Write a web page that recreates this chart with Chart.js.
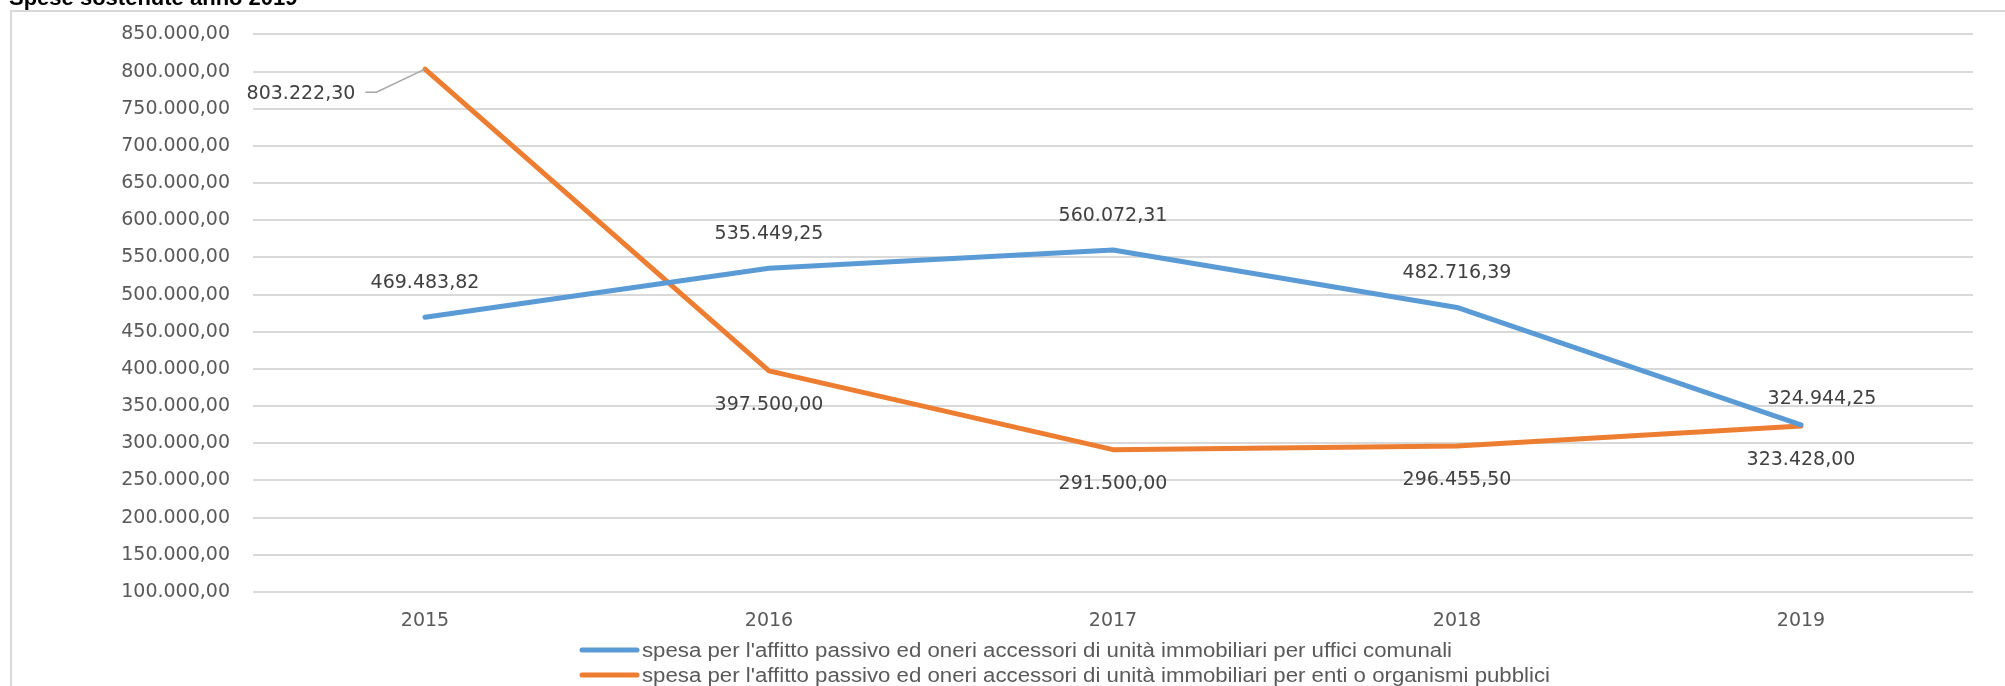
<!DOCTYPE html>
<html>
<head>
<meta charset="utf-8">
<script src="https://cdn.jsdelivr.net/npm/chart.js@4.4.1/dist/chart.umd.min.js"></script>
<style>
  html, body { margin: 0; padding: 0; background: #ffffff; overflow: hidden; }
  #wrap { position: relative; width: 2005px; height: 686px; }
  #frame { position: absolute; left: 10px; top: 10px; width: 2100px; height: 800px; border: 2px solid #D9D9D9; box-sizing: border-box; }
  canvas { position: absolute; left: 0; top: 0; }
</style>
</head>
<body>
<div id="wrap">
  <div id="frame"></div>
  <canvas id="c" width="2005" height="686"></canvas>
</div>
<script>
// ---- data ----
const chartTitle = "Spese sostenute anno 2019";
const categories = ["2015", "2016", "2017", "2018", "2019"];
const seriesNames = [
  "spesa per l'affitto passivo ed oneri accessori di unità immobiliari per uffici comunali",
  "spesa per l'affitto passivo ed oneri accessori di unità immobiliari per enti o organismi pubblici"
];
const ufficiComunali = [469483.82, 535449.25, 560072.31, 482716.39, 324944.25];
const entiPubblici = [803222.30, 397500.00, 291500.00, 296455.50, 323428.00];
const yMin = 100000;
const yMax = 850000;
const yStep = 50000;

// ---- styling ----
const colors = ["#5B9BD5", "#ED7D31"];
const tickFont = { family: "'DejaVu Sans', sans-serif", size: 19 };
const labelColor = "#404040";
const tickColor = "#595959";
// label placement per series/point: [dx, dy] from point (centre of text)
const labelOffsets = [
  [[0, -34], [0, -34], [0, -34], [0, -34], [21, -26]],
  [[-124, 25], [0, 34], [0, 34], [0, 34], [0, 34]]
];

function fmtIt(v) {
  const neg = v < 0;
  v = Math.abs(v);
  let [i, d] = v.toFixed(2).split(".");
  i = i.replace(/\B(?=(\d{3})+(?!\d))/g, ".");
  return (neg ? "-" : "") + i + "," + d;
}

const titlePlugin = {
  id: "titleCut",
  afterDraw(chart) {
    const ctx = chart.ctx;
    ctx.save();
    ctx.font = "bold 22px 'Liberation Sans', Arial, sans-serif";
    ctx.fillStyle = "#000000";
    ctx.textBaseline = "alphabetic";
    ctx.textAlign = "left";
    ctx.fillText(chartTitle, 9, 5);
    ctx.restore();
  }
};

const dataLabelPlugin = {
  id: "dataLabels",
  afterDatasetsDraw(chart) {
    const ctx = chart.ctx;
    ctx.save();
    ctx.font = tickFont.size + "px " + tickFont.family;
    ctx.fillStyle = labelColor;
    ctx.textAlign = "center";
    ctx.textBaseline = "middle";
    chart.data.datasets.forEach((ds, di) => {
      const meta = chart.getDatasetMeta(di);
      meta.data.forEach((pt, i) => {
        const [dx, dy] = labelOffsets[di][i];
        const tx = pt.x + dx, ty = pt.y + dy;
        const txt = fmtIt(ds.data[i]);
        if (Math.abs(dx) > 60) {
          const w = ctx.measureText(txt).width;
          const sx = tx + w / 2 + 10;
          ctx.save();
          ctx.strokeStyle = "#A6A6A6";
          ctx.lineWidth = 1.5;
          ctx.beginPath();
          ctx.moveTo(sx, ty - 2);
          ctx.lineTo(sx + 11, ty - 2);
          ctx.lineTo(pt.x, pt.y);
          ctx.stroke();
          ctx.restore();
        }
        ctx.fillText(txt, tx, ty);
      });
    });
    ctx.restore();
  }
};

const legendPlugin = {
  id: "customLegend",
  afterDraw(chart) {
    const ctx = chart.ctx;
    const area = chart.chartArea;
    const x0 = 582, lineLen = 55, textX = 642;
    const rows = [area.bottom + 58, area.bottom + 83];
    ctx.save();
    ctx.font = "20px 'Liberation Sans', Arial, sans-serif";
    const scaleX = 810 / ctx.measureText(seriesNames[0]).width;
    seriesNames.forEach((name, i) => {
      const y = rows[i];
      ctx.strokeStyle = colors[i];
      ctx.lineWidth = 5;
      ctx.lineCap = "round";
      ctx.beginPath();
      ctx.moveTo(x0, y);
      ctx.lineTo(x0 + lineLen, y);
      ctx.stroke();
      ctx.save();
      ctx.translate(textX, y);
      ctx.scale(scaleX, 1);
      ctx.fillStyle = tickColor;
      ctx.textAlign = "left";
      ctx.textBaseline = "middle";
      ctx.fillText(name, 0, 1);
      ctx.restore();
    });
    ctx.restore();
  }
};

new Chart(document.getElementById("c"), {
  type: "line",
  data: {
    labels: categories,
    datasets: [
      { label: seriesNames[0], data: ufficiComunali, borderColor: colors[0], backgroundColor: colors[0] },
      { label: seriesNames[1], data: entiPubblici, borderColor: colors[1], backgroundColor: colors[1] }
    ]
  },
  options: {
    responsive: false,
    animation: false,
    devicePixelRatio: 1,
    layout: { padding: { left: 0, right: 32, top: 32, bottom: 0 } },
    elements: {
      line: { borderWidth: 5, tension: 0, borderJoinStyle: "round", borderCapStyle: "round" },
      point: { radius: 0, hoverRadius: 0 }
    },
    plugins: {
      legend: { display: false },
      tooltip: { enabled: false },
      title: { display: false }
    },
    scales: {
      x: {
        offset: true,
        grid: { display: false, drawTicks: false },
        border: { display: false },
        ticks: { color: tickColor, font: tickFont, padding: 18, maxRotation: 0 },
        afterFit(s) { s.height = 94; }
      },
      y: {
        min: yMin,
        max: yMax,
        grid: { color: "#D9D9D9", lineWidth: 2, drawTicks: false },
        border: { display: false },
        ticks: { stepSize: yStep, color: tickColor, font: tickFont, padding: 23, callback: (v) => fmtIt(v) },
        afterFit(s) { s.width = 253; }
      }
    }
  },
  plugins: [dataLabelPlugin, legendPlugin, titlePlugin]
});
</script>
</body>
</html>
